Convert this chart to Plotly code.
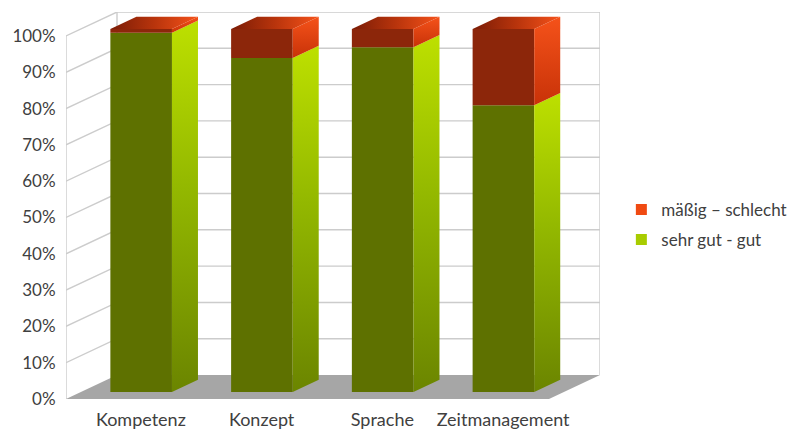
import plotly.graph_objects as go

# ---- data ----
categories = ["Kompetenz", "Konzept", "Sprache", "Zeitmanagement"]
sehr_gut_gut = [99, 92, 95, 79]          # percent
maessig_schlecht = [1, 8, 5, 21]         # percent
y_ticks = [0, 10, 20, 30, 40, 50, 60, 70, 80, 90, 100]
series_names = ["mäßig – schlecht", "sehr gut - gut"]

# ---- 3D-look geometry (in axis units) ----
DX = 0.4224      # depth offset in category units
DY = 6.6         # depth offset in percent units
F0, F1 = 0.29, 0.80   # bar front / back position within depth
BW = 0.51        # bar width

GRID = "#cccccc"
FLOOR = "#a6a6a6"
GREEN_FRONT = "#5e7100"
RED_FRONT = "#8c260a"
TXT = "#404040"

n = len(categories)
xs = list(range(n))
fig = go.Figure()


def poly(px, py, **kw):
    fig.add_trace(go.Scatter(x=px + [px[0]], y=py + [py[0]], mode="lines", fill="toself",
                             line=dict(width=0), hoverinfo="skip", showlegend=False, **kw))


# back wall + left wall gridlines
gx, gy = [], []
for v in y_ticks[1:]:
    gx += [-0.5, -0.5 + DX, n - 0.5 + DX, None]
    gy += [v, v + DY, v + DY, None]
gx += [-0.5 + DX, -0.5 + DX, None, n - 0.5 + DX, n - 0.5 + DX, None, -0.5, -0.5, None]
gy += [DY, 100 + DY, None, DY, 100 + DY, None, 0, 100, None]
fig.add_trace(go.Scatter(x=gx, y=gy, mode="lines", line=dict(color=GRID, width=1.4),
                         hoverinfo="skip", showlegend=False))

# floor
poly([-0.5, n - 0.5, n - 0.5 + DX, -0.5 + DX], [0, 0, DY, DY], fillcolor=FLOOR)

b0 = F0 * DY
ox = F0 * DX
ddx = (F1 - F0) * DX
ddy = (F1 - F0) * DY

for i, (g, r) in enumerate(zip(sehr_gut_gut, maessig_schlecht)):
    c = xs[i] + ox
    xl, xr = c - BW / 2, c + BW / 2
    # front faces
    poly([xl, xr, xr, xl], [b0, b0, b0 + g, b0 + g], fillcolor=GREEN_FRONT)
    poly([xl, xr, xr, xl], [b0 + g, b0 + g, b0 + g + r, b0 + g + r], fillcolor=RED_FRONT)
    # green side
    poly([xr, xr + ddx, xr + ddx, xr], [b0, b0 + ddy, b0 + ddy + g, b0 + g],
         fillgradient=dict(type="vertical",
                           colorscale=[[0, "#6b8500"], [0.55, "#93b800"], [1, "#bde000"]],
                           start=b0, stop=b0 + ddy + g))
    # red side
    poly([xr, xr + ddx, xr + ddx, xr], [b0 + g, b0 + ddy + g, b0 + ddy + g + r, b0 + g + r],
         fillgradient=dict(type="vertical", colorscale=[[0, "#c83208"], [1, "#f5521a"]],
                           start=b0 + g, stop=b0 + ddy + g + r))
    # red top
    top = b0 + g + r
    poly([xl, xr, xr + ddx, xl + ddx], [top, top, top + ddy, top + ddy],
         fillgradient=dict(type="horizontal",
                           colorscale=[[0, "#7a1c06"], [0.5, "#b8340c"], [1, "#f5521a"]],
                           start=xl, stop=xr + ddx))

# legend entries
fig.add_trace(go.Scatter(x=[None], y=[None], mode="markers", name=series_names[0],
                         marker=dict(symbol="square", size=11, color="#f04a12"), legendgroup="a"))
fig.add_trace(go.Scatter(x=[None], y=[None], mode="markers", name=series_names[1],
                         marker=dict(symbol="square", size=11, color="#a8cc00"), legendgroup="b"))

fig.update_layout(
    width=791, height=432,
    margin=dict(l=66, r=191, t=12, b=33, autoexpand=False),
    paper_bgcolor="white", plot_bgcolor="white",
    font=dict(family="Lato", color=TXT),
    showlegend=True,
    legend=dict(x=1.04, y=0.535, xanchor="left", yanchor="top",
                font=dict(size=17, color=TXT), tracegroupgap=5, itemwidth=30,
                bgcolor="rgba(0,0,0,0)"),
    xaxis=dict(range=[-0.5, n - 0.5 + DX], showgrid=False, zeroline=False, showline=False,
               tickmode="array", tickvals=[x + 0.12 for x in xs], ticktext=categories,
               ticks="outside", ticklen=4, tickcolor="rgba(0,0,0,0)", automargin=False,
               tickfont=dict(size=18, color=TXT), fixedrange=True),
    yaxis=dict(range=[0, 100 + DY], showgrid=False, zeroline=False, showline=False,
               tickmode="array", tickvals=y_ticks, ticktext=[f"{v}%" for v in y_ticks],
               ticks="outside", ticklen=6, tickcolor="rgba(0,0,0,0)", automargin=False,
               tickfont=dict(size=17, color=TXT), fixedrange=True),
)

fig.write_html("out.html")
